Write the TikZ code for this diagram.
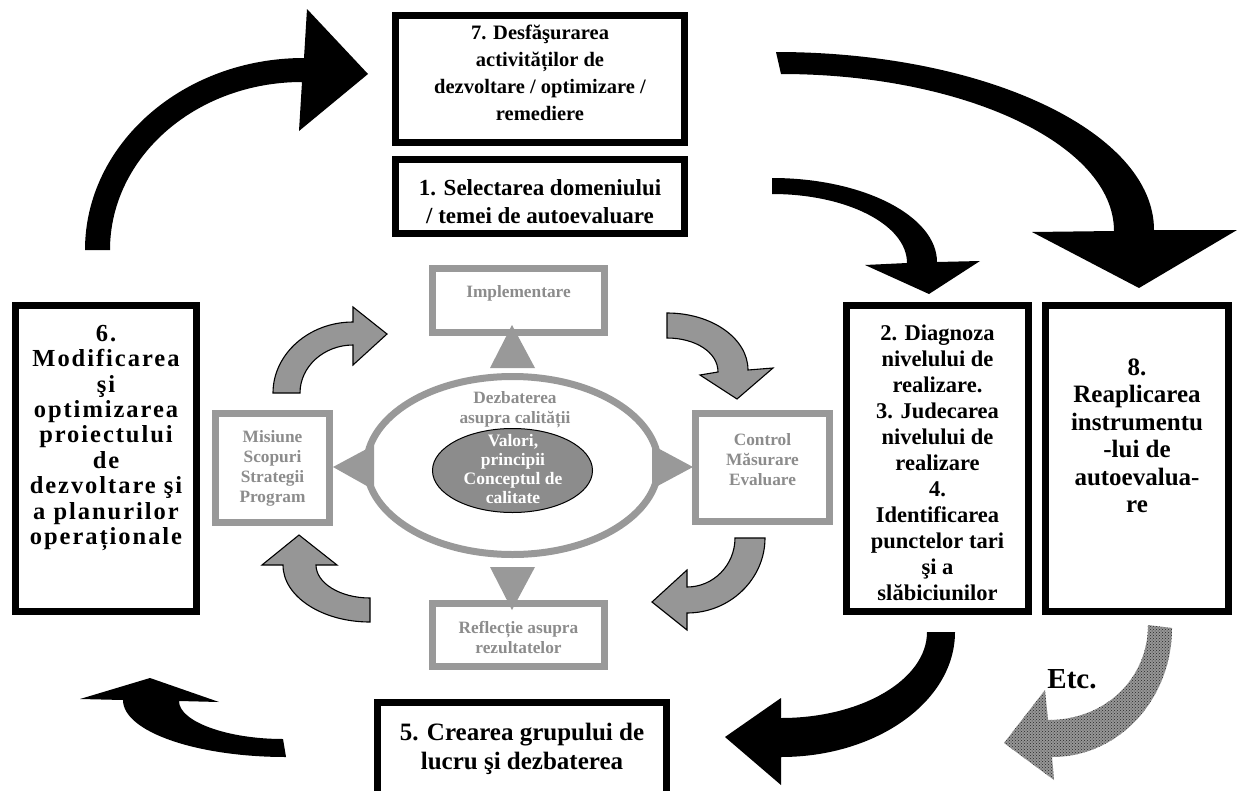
\documentclass[tikz,border=0pt]{standalone}
\usepackage{fontspec}
\setmainfont{Liberation Serif}
\usetikzlibrary{shapes.geometric,patterns}
\definecolor{gframe}{RGB}{153,153,153}
\definecolor{gtext}{RGB}{140,140,140}
\definecolor{gfill}{RGB}{150,150,150}
\definecolor{ellfill}{RGB}{140,140,140}
\definecolor{etcfill}{RGB}{150,150,150}
\begin{document}
\begin{tikzpicture}[x=1pt,y=-1pt,
  bbox/.style={draw=black, line width=7pt, fill=white, inner sep=0pt},
  gbox/.style={draw=gframe, line width=7pt, fill=white, inner sep=0pt},
  btxt/.style={align=center, text=black, inner sep=0pt},
  gtxt/.style={align=center, text=gtext, inner sep=0pt, font=\bfseries\fontsize{17.3}{20}\selectfont},
  barrow/.style={fill=black, draw=none},
  garrow/.style={fill=gfill, draw=black, line width=1.1pt, line join=miter},
  etcarrow/.style={fill=etcfill, draw=none},
  etcdots/.style={pattern=crosshatch dots, pattern color=black!85},
  tri/.style={fill=gframe, draw=none}]
\useasboundingbox (0,0) rectangle (1237,790);

% ---------- black boxes ----------
\node[bbox, minimum width=289pt, minimum height=127pt] (b7) at (540,79) {};
\node[bbox, minimum width=289pt, minimum height=74pt] (b1) at (540,196.5) {};
\node[bbox, minimum width=181pt, minimum height=306pt] (b6) at (106,458.5) {};
\node[bbox, minimum width=182pt, minimum height=306pt] (b2) at (937.5,458.5) {};
\node[bbox, minimum width=183pt, minimum height=306pt] (b8) at (1137,458.5) {};
\node[bbox, minimum width=289pt, minimum height=93pt] (b5) at (522,749) {};

\node[btxt, font=\bfseries\fontsize{20.5}{27}\selectfont] (t7) at (540,73)
  {7. Desfăşurarea\\activităților de\\dezvoltare / optimizare /\\remediere};
\node[btxt, font=\bfseries\fontsize{23}{28}\selectfont] (t1) at (540,202)
  {1. Selectarea domeniului\\/ temei de autoevaluare};
\node[btxt, font=\fontsize{24.5}{25.4}\selectfont\bfseries\addfontfeature{LetterSpace=8}] (t6) at (106,438)
  {6.\\Modificarea\\şi\\optimizarea\\proiectului\\de\\dezvoltare şi\\a planurilor\\operaționale};
\node[btxt, font=\bfseries\fontsize{22.5}{26}\selectfont] (t2) at (937.5,463)
  {2. Diagnoza\\nivelului de\\realizare.\\3. Judecarea\\nivelului de\\realizare\\4.\\Identificarea\\punctelor tari\\şi a\\slăbiciunilor};
\node[btxt, font=\bfseries\fontsize{25}{27.5}\selectfont] (t8) at (1137,436)
  {8.\\Reaplicarea\\instrumentu\\-lui de\\autoevalua-\\re};
\node[btxt, font=\bfseries\fontsize{25}{29}\selectfont] (t5) at (522,749)
  {5. Crearea grupului de\\lucru şi dezbaterea};
\node[btxt, font=\bfseries\fontsize{29}{32}\selectfont] (etc) at (1072,679) {Etc.};

% ---------- black arrows ----------
\fill[barrow] (85,250) .. controls (85,144) and (183,58) .. (304,58) -- (307,9) -- (368,74) -- (299,131) -- (302,82) .. controls (196,82) and (110,157) .. (110,250) -- cycle;
\fill[barrow] (776,52) .. controls (985,52) and (1154,132) .. (1154,230) -- (1237,230) -- (1139,288) -- (1032,232) -- (1114,231) .. controls (1114,144) and (963,74) .. (781,74) -- cycle;
\fill[barrow] (772,178) .. controls (863,178) and (937,216) .. (937,262) -- (980,261) -- (929,294) -- (865,265) -- (907,263) .. controls (907,224.5) and (846.5,194) .. (772,194) -- cycle;
\fill[barrow] (955,632) .. controls (955,701) and (877,757) .. (781,757) -- (781,785) -- (725,737) -- (781,698) -- (781,718) .. controls (861.6,718) and (927,679.5) .. (927,632) -- cycle;
\fill[barrow] (286,757) .. controls (196,757) and (123,731.5) .. (123,700) -- (80,699) -- (150,678) -- (219,702) -- (179,701) .. controls (179,721.5) and (227,739) .. (283,739) -- cycle;
\fill[etcarrow] (1172,628) .. controls (1172,698) and (1120,757) .. (1052,757) -- (1054,780) -- (1004,743) -- (1045,690) -- (1048,720) .. controls (1106,720) and (1148,678) .. (1148,625) -- cycle;
\fill[etcdots] (1172,628) .. controls (1172,698) and (1120,757) .. (1052,757) -- (1054,780) -- (1004,743) -- (1045,690) -- (1048,720) .. controls (1106,720) and (1148,678) .. (1148,625) -- cycle;

% ---------- central cycle ----------
\draw[gframe, line width=7pt] (512.5,465.5) ellipse [x radius=146pt, y radius=89pt];

\node[gbox, minimum width=172pt, minimum height=64pt] (impl) at (518.5,300.5) {};
\node[gbox, minimum width=114pt, minimum height=109pt] (mis) at (272.5,468) {};
\node[gbox, minimum width=134pt, minimum height=108pt] (ctrl) at (762.5,467.5) {};
\node[gbox, minimum width=172pt, minimum height=63pt] (refl) at (518.5,635) {};

\fill[tri] (490,368) -- (535,368) -- (512,325) -- cycle;
\fill[tri] (490,567) -- (535,567) -- (512,610) -- cycle;
\fill[tri] (333,467) -- (374,445) -- (374,490) -- cycle;
\fill[tri] (693,467) -- (652,445) -- (652,489) -- cycle;

\node[gtxt] (timpl) at (518.5,293) {Implementare};
\node[gtxt] (tmis) at (272.5,468) {Misiune\\Scopuri\\Strategii\\Program};
\node[gtxt] (tctrl) at (762.5,460) {Control\\Măsurare\\Evaluare};
\node[gtxt] (trefl) at (518.5,638) {Reflecție asupra\\rezultatelor};
\node[gtxt] (tdez) at (515,410) {Dezbaterea\\asupra calității};

\node[draw=black, line width=1pt, fill=ellfill, ellipse, minimum width=160pt, minimum height=84pt, inner sep=0pt] (val) at (512.5,470.5) {};
\node[align=center, text=white, inner sep=0pt, font=\bfseries\fontsize{17.5}{19}\selectfont] (tval) at (513,469)
  {Valori,\\principii\\Conceptul de\\calitate};

% ---------- gray arrows ----------
\filldraw[garrow] (273,393) .. controls (273,354) and (309,322) .. (353,322) -- (353,307) -- (387,334) -- (353,365) -- (353,345) .. controls (324,345) and (300,366.5) .. (300,393) -- cycle;
\filldraw[garrow] (667,313) .. controls (712,313) and (748,338.5) .. (748,370) -- (773,368) -- (737,399) -- (700,375) -- (718,372) .. controls (718,352) and (695,338) .. (667,338) -- cycle;
\filldraw[garrow] (765,538) .. controls (765,579) and (730,613) .. (687,613) -- (687,630) -- (652,602) -- (687,570) -- (687,587) .. controls (713.5,587) and (735,565) .. (735,538) -- cycle;
\filldraw[garrow] (370,622) .. controls (322,622) and (283,596.5) .. (283,565) -- (262,565) -- (299,535) -- (337,565) -- (316,565) .. controls (316,583) and (340,598) .. (370,598) -- cycle;
\end{tikzpicture}
\end{document}
